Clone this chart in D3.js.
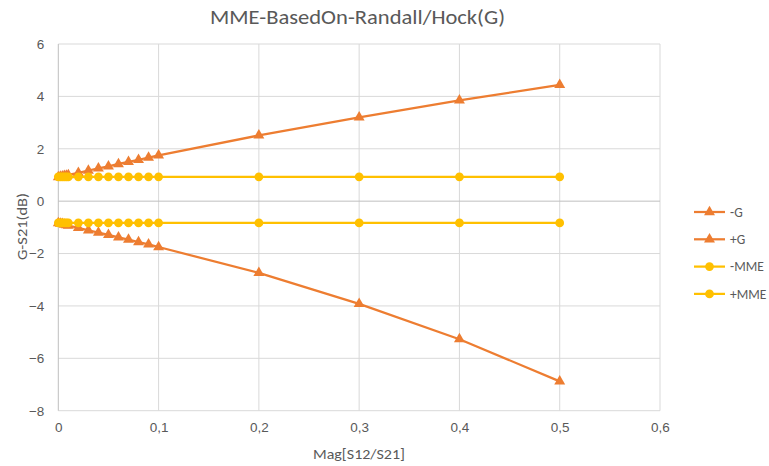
<!DOCTYPE html>
<html>
<head>
<meta charset="utf-8">
<script src="https://cdn.jsdelivr.net/npm/d3@7/dist/d3.min.js"></script>
<style>
  html, body { margin: 0; padding: 0; background: #fff; }
  svg { display: block; font-family: Calibri, Carlito, Lato, "Open Sans", sans-serif; }
</style>
</head>
<body>
<svg id="chart" width="769" height="466"></svg>
<script>
// Reflection magnitude |S12/S21|
const magValues = [0, 0.002, 0.004, 0.006, 0.008, 0.01, 0.02, 0.03, 0.04, 0.05, 0.06, 0.07, 0.08, 0.09, 0.1, 0.2, 0.3, 0.4, 0.5];

// G - S21 bounds (dB)
const minusG = [-0.84, -0.86, -0.87, -0.89, -0.91, -0.93, -1.02, -1.11, -1.20, -1.29, -1.38, -1.47, -1.56, -1.65, -1.75, -2.74, -3.92, -5.27, -6.88];
const plusG  = [0.92, 0.94, 0.95, 0.97, 0.98, 1.00, 1.08, 1.17, 1.25, 1.33, 1.42, 1.50, 1.58, 1.66, 1.75, 2.51, 3.20, 3.85, 4.44];

// Mismatch error limits (dB), constant over the range
const minusMME = magValues.map(() => 0.93);
const plusMME  = magValues.map(() => -0.83);

const xTicks = [0, 0.1, 0.2, 0.3, 0.4, 0.5, 0.6];
const yTicks = [-8, -6, -4, -2, 0, 2, 4, 6];

const series = [
  { name: "-G",   values: minusG,   color: "#ED7D31", marker: "triangle" },
  { name: "+G",   values: plusG,    color: "#ED7D31", marker: "triangle" },
  { name: "-MME", values: minusMME, color: "#FFC000", marker: "circle" },
  { name: "+MME", values: plusMME,  color: "#FFC000", marker: "circle" }
];

const svg = d3.select("#chart");
const plot = { left: 58.3, right: 660, top: 44, bottom: 410.7 };

const x = d3.scaleLinear().domain([0, 0.6]).range([plot.left, plot.right]);
const y = d3.scaleLinear().domain([-8, 6]).range([plot.bottom, plot.top]);

const fmtX = v => d3.format(".1f")(v).replace(".", ",").replace(/^0,0$/, "0");

// Gridlines
svg.append("g")
  .selectAll("line.h")
  .data(yTicks.filter(d => d !== 0))
  .join("line")
  .attr("x1", plot.left).attr("x2", plot.right)
  .attr("y1", d => y(d)).attr("y2", d => y(d))
  .attr("stroke", "#d9d9d9").attr("stroke-width", 1);

svg.append("g")
  .selectAll("line.v")
  .data(xTicks.filter(d => d !== 0))
  .join("line")
  .attr("x1", d => x(d)).attr("x2", d => x(d))
  .attr("y1", plot.top).attr("y2", plot.bottom)
  .attr("stroke", "#d9d9d9").attr("stroke-width", 1);

// Axis lines: vertical at x=0, horizontal crossing at y=0
svg.append("line")
  .attr("x1", x(0)).attr("x2", x(0))
  .attr("y1", plot.top).attr("y2", plot.bottom)
  .attr("stroke", "#bfbfbf").attr("stroke-width", 1);
svg.append("line")
  .attr("x1", plot.left).attr("x2", plot.right)
  .attr("y1", y(0)).attr("y2", y(0))
  .attr("stroke", "#bfbfbf").attr("stroke-width", 1);

// Tick labels via d3 axes (no domain / tick marks)
const yAxis = d3.axisLeft(y).tickValues(yTicks).tickSize(0).tickPadding(0).tickFormat(d3.format("d"));
svg.append("g")
  .attr("transform", `translate(${plot.left - 14},0)`)
  .call(yAxis)
  .call(g => g.select(".domain").remove())
  .selectAll("text")
  .attr("fill", "#595959").attr("font-size", 13.5).attr("font-family", null);

const xAxis = d3.axisBottom(x).tickValues(xTicks).tickSize(0).tickPadding(0).tickFormat(fmtX);
svg.append("g")
  .attr("transform", `translate(0,${plot.bottom + 12})`)
  .call(xAxis)
  .call(g => g.select(".domain").remove())
  .selectAll("text")
  .attr("fill", "#595959").attr("font-size", 13.5).attr("font-family", null);

// Series lines and markers
const line = d3.line().x((d, i) => x(magValues[i])).y(d => y(d));
const triangle = d3.symbol().type(d3.symbolTriangle).size(52);
const circle = d3.symbol().type(d3.symbolCircle).size(60);

series.forEach(s => {
  svg.append("path")
    .datum(s.values)
    .attr("d", line)
    .attr("fill", "none")
    .attr("stroke", s.color)
    .attr("stroke-width", 2.25)
    .attr("stroke-linejoin", "round");
  svg.append("g")
    .selectAll("path")
    .data(s.values)
    .join("path")
    .attr("transform", (d, i) => `translate(${x(magValues[i])},${y(d)})`)
    .attr("d", s.marker === "triangle" ? triangle : circle)
    .attr("fill", s.color);
});

// Title
svg.append("text")
  .attr("x", 357.5).attr("y", 24)
  .attr("text-anchor", "middle")
  .attr("font-size", 19.5)
  .attr("fill", "#595959")
  .attr("textLength", 295)
  .attr("lengthAdjust", "spacingAndGlyphs")
  .text("MME-BasedOn-Randall/Hock(G)");

// Axis titles
svg.append("text")
  .attr("x", 359).attr("y", 459)
  .attr("text-anchor", "middle")
  .attr("font-size", 14.5)
  .attr("fill", "#595959")
  .attr("textLength", 92)
  .attr("lengthAdjust", "spacingAndGlyphs")
  .text("Mag[S12/S21]");

svg.append("text")
  .attr("transform", "translate(27,226.5) rotate(-90)")
  .attr("text-anchor", "middle")
  .attr("font-size", 14.5)
  .attr("fill", "#595959")
  .attr("textLength", 67)
  .attr("lengthAdjust", "spacingAndGlyphs")
  .text("G-S21(dB)");

// Legend
const legend = svg.append("g");
series.forEach((s, i) => {
  const ly = 212 + i * 27.3;
  legend.append("line")
    .attr("x1", 694).attr("x2", 725)
    .attr("y1", ly).attr("y2", ly)
    .attr("stroke", s.color).attr("stroke-width", 2.25);
  legend.append("path")
    .attr("transform", `translate(709.5,${ly})`)
    .attr("d", s.marker === "triangle" ? triangle() : circle())
    .attr("fill", s.color);
  legend.append("text")
    .attr("x", 730).attr("y", ly)
    .attr("dy", "0.35em")
    .attr("font-size", 13.5)
    .attr("fill", "#595959")
    .text(s.name);
});
</script>
</body>
</html>
